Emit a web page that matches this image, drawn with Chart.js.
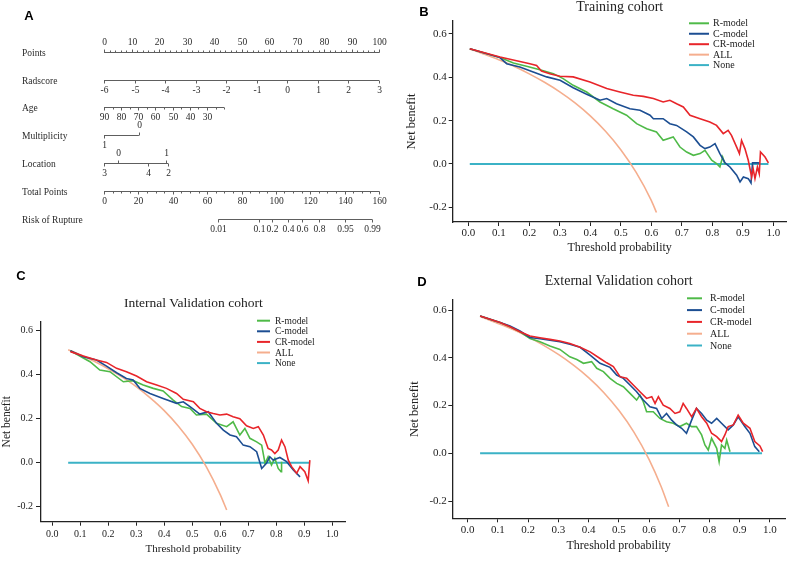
<!DOCTYPE html>
<html>
<head>
<meta charset="utf-8">
<script src="https://cdn.jsdelivr.net/npm/chart.js@4.4.0/dist/chart.umd.min.js"></script>
<style>
  body { margin: 0; background: #fff; width: 800px; height: 568px; position: relative; overflow: hidden; }
  canvas { position: absolute; }
</style>
</head>
<body>
<canvas id="nomo" width="400" height="255" style="left:0;top:0"></canvas>
<canvas id="dcaTrain" width="400" height="258" style="left:400px;top:0"></canvas>
<canvas id="dcaInt" width="400" height="308" style="left:0;top:260px"></canvas>
<canvas id="dcaExt" width="400" height="308" style="left:400px;top:260px"></canvas>
<script>
// ---- nomogram (panel A) ----
const rowNames = ['Points', 'Radscore', 'Age', 'Multiplicity', 'Location', 'Total Points', 'Risk of Rupture'];
const pointsTicks = [0, 10, 20, 30, 40, 50, 60, 70, 80, 90, 100];
const radscoreLabels = ['-6', '-5', '-4', '-3', '-2', '-1', '0', '1', '2', '3'];
const radscorePts = [0, 11.1, 22.2, 33.3, 44.4, 55.6, 66.7, 77.8, 88.9, 100];
const ageLabels = ['90', '80', '70', '60', '50', '40', '30'];
const ageLabelPts = [0, 6.2, 12.5, 18.7, 25.0, 31.2, 37.5];
const ageTickPts = [0, 3.1, 6.2, 9.4, 12.5, 15.6, 18.7, 21.9, 25.0, 28.1, 31.2, 34.3, 37.5, 40.6, 43.7];
const multiLabelsUp = ['0'], multiPtsUp = [12.7];
const multiLabelsDown = ['1'], multiPtsDown = [0];
const locLabelsUp = ['0', '1'], locPtsUp = [5.1, 22.4];
const locLabelsDown = ['3', '4', '2'], locPtsDown = [0, 16.0, 23.3];
const totalTicks = [0, 20, 40, 60, 80, 100, 120, 140, 160];
const riskLabels = ['0.01', '0.1', '0.2', '0.4', '0.6', '0.8', '0.95', '0.99'];
const riskTotalPts = [66.5, 89.9, 97.8, 107.3, 115.3, 124.8, 140.0, 156.1];

// ---- decision curves: [threshold, net benefit] ----
const modelNames = ['R-model', 'C-model', 'CR-model', 'ALL', 'None'];
const modelColors = ['#4fba48', '#1c4e92', '#e8252a', '#f5ae8e', '#3bb2c6'];

const trainR = [[0.005,0.532],[0.104,0.491],[0.148,0.466],[0.191,0.451],[0.235,0.435],[0.279,0.417],[0.311,0.394],[0.344,0.363],[0.388,0.332],[0.432,0.286],[0.475,0.255],[0.519,0.225],[0.552,0.186],[0.585,0.163],[0.617,0.148],[0.639,0.109],[0.672,0.125],[0.694,0.078],[0.716,0.055],[0.738,0.040],[0.760,0.048],[0.776,0.063],[0.798,0.017],[0.814,0.002],[0.825,-0.014],[0.834,0.032],[0.842,-0.002]];
const trainC = [[0.005,0.532],[0.104,0.491],[0.126,0.463],[0.169,0.448],[0.213,0.425],[0.257,0.402],[0.301,0.386],[0.344,0.352],[0.388,0.322],[0.432,0.294],[0.454,0.302],[0.486,0.278],[0.530,0.255],[0.563,0.248],[0.596,0.225],[0.607,0.209],[0.639,0.209],[0.661,0.186],[0.683,0.178],[0.716,0.148],[0.738,0.125],[0.760,0.086],[0.776,0.071],[0.792,0.078],[0.809,0.094],[0.825,0.048],[0.842,0.005],[0.858,-0.014],[0.880,-0.052],[0.891,-0.083],[0.902,-0.060],[0.918,-0.068],[0.927,-0.088],[0.932,0.005],[0.951,0.005],[0.956,0.002]];
const trainCR = [[0.005,0.532],[0.104,0.494],[0.202,0.463],[0.224,0.455],[0.240,0.429],[0.270,0.415],[0.301,0.405],[0.344,0.402],[0.399,0.378],[0.454,0.348],[0.497,0.332],[0.541,0.317],[0.574,0.312],[0.607,0.302],[0.639,0.286],[0.661,0.294],[0.683,0.278],[0.705,0.263],[0.727,0.225],[0.760,0.209],[0.792,0.194],[0.814,0.178],[0.836,0.140],[0.852,0.155],[0.863,0.132],[0.880,0.078],[0.889,0.048],[0.896,0.109],[0.907,0.071],[0.918,0.017],[0.929,-0.060],[0.934,-0.022],[0.940,-0.068],[0.948,-0.014],[0.954,-0.045],[0.958,0.055],[0.973,0.032],[0.984,0.005]];
const trainAll = [[0.005,0.531],[0.05,0.508],[0.1,0.481],[0.15,0.451],[0.2,0.416],[0.25,0.377],[0.3,0.333],[0.35,0.282],[0.4,0.222],[0.45,0.151],[0.5,0.066],[0.55,-0.038],[0.6,-0.168],[0.617,-0.224]];
const trainNone = [[0.005,0],[0.984,0]];

const intR = [[0.065,0.509],[0.135,0.459],[0.170,0.421],[0.206,0.414],[0.254,0.368],[0.289,0.373],[0.325,0.353],[0.361,0.338],[0.396,0.326],[0.432,0.285],[0.462,0.255],[0.492,0.247],[0.515,0.217],[0.551,0.221],[0.587,0.179],[0.623,0.164],[0.646,0.186],[0.670,0.126],[0.688,0.156],[0.706,0.111],[0.730,0.095],[0.748,0.080],[0.760,-0.003],[0.771,0.027],[0.783,-0.011],[0.795,0.020],[0.807,-0.026],[0.817,-0.041],[0.819,0.005]];
const intC = [[0.065,0.509],[0.111,0.482],[0.158,0.467],[0.194,0.439],[0.230,0.409],[0.265,0.383],[0.289,0.376],[0.313,0.338],[0.349,0.315],[0.396,0.292],[0.444,0.270],[0.468,0.277],[0.492,0.255],[0.527,0.221],[0.557,0.232],[0.587,0.179],[0.611,0.148],[0.635,0.126],[0.658,0.118],[0.682,0.080],[0.706,0.073],[0.730,0.050],[0.748,-0.026],[0.765,-0.003],[0.777,0.027],[0.789,0.012],[0.813,0.024],[0.837,0.005],[0.861,-0.033],[0.885,-0.064]];
const intCR = [[0.065,0.505],[0.111,0.485],[0.158,0.467],[0.194,0.456],[0.230,0.429],[0.265,0.414],[0.301,0.394],[0.337,0.368],[0.373,0.353],[0.408,0.338],[0.444,0.315],[0.468,0.288],[0.504,0.277],[0.527,0.247],[0.551,0.232],[0.575,0.224],[0.599,0.217],[0.623,0.221],[0.646,0.209],[0.670,0.200],[0.694,0.168],[0.718,0.156],[0.736,0.164],[0.754,0.126],[0.771,0.065],[0.783,0.058],[0.795,0.042],[0.807,0.058],[0.819,0.103],[0.831,0.073],[0.843,0.012],[0.855,-0.018],[0.873,-0.048],[0.885,-0.018],[0.902,-0.041],[0.914,-0.082],[0.920,0.012]];
const intAll = [[0.057,0.514],[0.1,0.491],[0.15,0.461],[0.2,0.427],[0.25,0.389],[0.3,0.346],[0.35,0.295],[0.4,0.237],[0.45,0.167],[0.5,0.084],[0.55,-0.018],[0.6,-0.145],[0.623,-0.215]];
const intNone = [[0.057,0],[0.920,0]];

const extR = [[0.041,0.575],[0.107,0.548],[0.140,0.530],[0.173,0.509],[0.206,0.481],[0.239,0.467],[0.272,0.449],[0.305,0.435],[0.338,0.404],[0.361,0.393],[0.383,0.377],[0.410,0.384],[0.427,0.356],[0.449,0.342],[0.471,0.314],[0.493,0.293],[0.515,0.279],[0.537,0.251],[0.559,0.223],[0.570,0.244],[0.581,0.216],[0.592,0.174],[0.614,0.174],[0.636,0.146],[0.658,0.132],[0.680,0.126],[0.702,0.112],[0.724,0.126],[0.741,0.112],[0.757,0.112],[0.774,0.077],[0.785,0.035],[0.796,0.014],[0.807,0.063],[0.824,0.021],[0.832,-0.035],[0.840,0.035],[0.851,0.021],[0.857,0.056],[0.868,0.007]];
const extC = [[0.041,0.575],[0.107,0.548],[0.140,0.533],[0.173,0.512],[0.206,0.485],[0.239,0.480],[0.272,0.474],[0.305,0.467],[0.338,0.457],[0.372,0.444],[0.405,0.411],[0.438,0.377],[0.471,0.360],[0.493,0.328],[0.515,0.314],[0.537,0.286],[0.559,0.258],[0.581,0.223],[0.603,0.195],[0.625,0.188],[0.642,0.146],[0.658,0.167],[0.675,0.139],[0.691,0.119],[0.708,0.105],[0.724,0.084],[0.741,0.139],[0.757,0.188],[0.774,0.167],[0.791,0.139],[0.807,0.126],[0.824,0.146],[0.840,0.126],[0.862,0.098],[0.879,0.119],[0.895,0.153],[0.917,0.112],[0.934,0.084],[0.950,0.028],[0.965,0.007]];
const extCR = [[0.041,0.575],[0.107,0.548],[0.140,0.530],[0.173,0.509],[0.206,0.491],[0.239,0.484],[0.272,0.477],[0.305,0.470],[0.338,0.460],[0.372,0.444],[0.405,0.425],[0.438,0.397],[0.460,0.379],[0.482,0.363],[0.504,0.321],[0.526,0.314],[0.548,0.286],[0.570,0.258],[0.592,0.230],[0.609,0.237],[0.620,0.209],[0.631,0.237],[0.647,0.202],[0.669,0.188],[0.686,0.167],[0.702,0.174],[0.713,0.209],[0.724,0.188],[0.741,0.153],[0.757,0.188],[0.774,0.153],[0.791,0.126],[0.807,0.084],[0.824,0.070],[0.840,0.049],[0.851,0.077],[0.862,0.112],[0.879,0.119],[0.895,0.160],[0.912,0.126],[0.934,0.105],[0.950,0.049],[0.967,0.031],[0.976,0.007]];
const extAll = [[0.041,0.573],[0.1,0.544],[0.15,0.518],[0.2,0.488],[0.25,0.453],[0.3,0.414],[0.35,0.369],[0.4,0.317],[0.45,0.255],[0.5,0.180],[0.55,0.089],[0.6,-0.025],[0.64,-0.139],[0.665,-0.224]];
const extNone = [[0.041,0],[0.974,0]];

const serif = "'Liberation Serif', 'Times New Roman', serif";
const sans = "'Liberation Sans', Arial, sans-serif";

// nomogram rows, built from the arrays above
const nomoRows = [
  { scale: 'x', range: [0, 100], groups: [{ pos: pointsTicks, text: pointsTicks, side: -1 }], minorStep: 2, minorSide: -1 },
  { scale: 'x', range: [0, 100], groups: [{ pos: radscorePts, text: radscoreLabels, side: 1 }] },
  { scale: 'x', range: [0, ageTickPts[ageTickPts.length - 1]], groups: [{ pos: ageLabelPts, text: ageLabels, side: 1 }], minor: ageTickPts, minorSide: 1 },
  { scale: 'x', range: [0, multiPtsUp[0]], groups: [{ pos: multiPtsUp, text: multiLabelsUp, side: -1 }, { pos: multiPtsDown, text: multiLabelsDown, side: 1 }] },
  { scale: 'x', range: [0, locPtsDown[2]], groups: [{ pos: locPtsUp, text: locLabelsUp, side: -1 }, { pos: locPtsDown, text: locLabelsDown, side: 1 }] },
  { scale: 'xTotal', range: [0, 160], groups: [{ pos: totalTicks, text: totalTicks, side: 1 }], minorStep: 5, minorSide: 1 },
  { scale: 'xTotal', range: [riskTotalPts[0], riskTotalPts[riskTotalPts.length - 1]], groups: [{ pos: riskTotalPts, text: riskLabels, side: 1 }] }
];

const nomogramPlugin = {
  id: 'nomogram',
  afterDraw(chart) {
    const ctx = chart.ctx;
    const ys = chart.scales.y;
    ctx.save();
    ctx.lineWidth = 1;
    ctx.strokeStyle = '#5e5e5e';
    ctx.fillStyle = '#2a2a2a';
    ctx.font = '9.5px ' + serif;
    ctx.textBaseline = 'middle';
    nomoRows.forEach((row, i) => {
      const sc = chart.scales[row.scale];
      const y = Math.round(ys.getPixelForValue(i)) + 0.5;
      ctx.textAlign = 'left';
      ctx.fillText(rowNames[i], 22, y + 1);
      ctx.beginPath();
      ctx.moveTo(sc.getPixelForValue(row.range[0]), y);
      ctx.lineTo(sc.getPixelForValue(row.range[1]), y);
      ctx.stroke();
      // minor ticks
      let minor = row.minor || [];
      if (row.minorStep) {
        minor = [];
        for (let v = row.range[0]; v <= row.range[1] + 1e-9; v += row.minorStep) minor.push(v);
      }
      ctx.beginPath();
      minor.forEach(v => {
        const px = Math.round(sc.getPixelForValue(v)) + 0.5;
        ctx.moveTo(px, y);
        ctx.lineTo(px, y + row.minorSide * 2);
      });
      ctx.stroke();
      // major ticks and labels
      ctx.textAlign = 'center';
      row.groups.forEach(g => {
        g.pos.forEach((v, k) => {
          const px = Math.round(sc.getPixelForValue(v)) + 0.5;
          ctx.beginPath();
          ctx.moveTo(px, y);
          ctx.lineTo(px, y + g.side * 3);
          ctx.stroke();
          ctx.fillText(String(g.text[k]), px, y + g.side * 10);
        });
      });
    });
    ctx.restore();
  }
};

// panel letter, title and legend for each panel
const panelPlugin = {
  id: 'panel',
  afterDraw(chart, args, o) {
    const ctx = chart.ctx;
    const a = chart.chartArea;
    ctx.save();
    ctx.textBaseline = 'middle';
    if (o.letter) {
      ctx.font = 'bold 13px ' + sans;
      ctx.fillStyle = '#000';
      ctx.textAlign = 'center';
      ctx.fillText(o.letter, o.letterX, o.letterY);
    }
    if (o.title) {
      ctx.font = o.titleSize + 'px ' + serif;
      ctx.fillStyle = '#222';
      ctx.textAlign = 'center';
      ctx.fillText(o.title, (a.left + a.right) / 2, o.titleY);
    }
    if (o.legend) {
      const L = o.legend;
      ctx.font = L.size + 'px ' + serif;
      ctx.textAlign = 'left';
      chart.data.datasets.forEach((ds, i) => {
        const y = L.y0 + i * L.dy;
        ctx.strokeStyle = ds.borderColor;
        ctx.lineWidth = 2;
        ctx.beginPath();
        ctx.moveTo(L.x0, y);
        ctx.lineTo(L.x1, y);
        ctx.stroke();
        ctx.fillStyle = '#222';
        ctx.fillText(ds.label, L.tx, y + 0.5);
      });
    }
    ctx.restore();
  }
};

new Chart(document.getElementById('nomo'), {
  type: 'scatter',
  data: { datasets: [] },
  options: {
    responsive: false,
    animation: false,
    events: [],
    layout: { padding: { left: 104, right: 21, top: 51.7, bottom: 36.3 } },
    plugins: {
      legend: { display: false },
      tooltip: { enabled: false },
      panel: { letter: 'A', letterX: 29, letterY: 16 }
    },
    scales: {
      x: { type: 'linear', min: 0, max: 100, display: false },
      xTotal: { type: 'linear', axis: 'x', min: 0, max: 160, display: false },
      y: { type: 'linear', min: 0, max: rowNames.length - 1, reverse: true, display: false }
    }
  },
  plugins: [nomogramPlugin, panelPlugin]
});

function dcaChart(id, series, c) {
  const drawOrder = [2, 1, 0, 3, 4];
  return new Chart(document.getElementById(id), {
    type: 'line',
    data: {
      datasets: modelNames.map((name, k) => ({
        label: name,
        data: series[k].map(p => ({ x: p[0], y: p[1] })),
        borderColor: modelColors[k],
        backgroundColor: modelColors[k],
        borderWidth: k === 4 ? 2 : 1.6,
        pointRadius: 0,
        tension: 0,
        cubicInterpolationMode: k === 3 ? 'monotone' : 'default',
        order: drawOrder[k]
      }))
    },
    options: {
      responsive: false,
      animation: false,
      events: [],
      layout: { padding: { left: 0, right: c.padRight, top: c.padTop, bottom: 0 } },
      plugins: {
        legend: { display: false },
        tooltip: { enabled: false },
        panel: c.panel
      },
      scales: {
        x: {
          type: 'linear', min: c.xMin, max: c.xMax,
          border: { display: true, color: '#222', width: 1.3 },
          grid: { drawOnChartArea: false, drawTicks: true, tickLength: 4, color: '#222' },
          ticks: {
            stepSize: 0.1, includeBounds: false, padding: c.xTickPad, color: '#222',
            maxRotation: 0, autoSkip: false,
            font: { family: serif, size: c.tickSize },
            callback: v => v.toFixed(1)
          },
          title: {
            display: true, text: 'Threshold probability', color: '#222',
            font: { family: serif, size: c.xTitleSize }, padding: { top: 0, bottom: c.xTitlePad }
          },
          afterFit: s => { s.height = c.xHeight; }
        },
        y: {
          type: 'linear', min: c.yMin, max: c.yMax,
          border: { display: true, color: '#222', width: 1.3 },
          grid: { drawOnChartArea: false, drawTicks: true, tickLength: c.yTickLen, color: '#222' },
          ticks: {
            stepSize: 0.2, includeBounds: false, padding: c.yTickPad, color: '#222',
            font: { family: serif, size: c.tickSize },
            callback: v => v.toFixed(1)
          },
          title: {
            display: true, text: 'Net benefit', color: '#222',
            font: { family: serif, size: c.yTitleSize }, padding: { top: c.yTitlePad, bottom: 0 }
          },
          afterFit: s => { s.width = c.yWidth; }
        }
      }
    },
    plugins: [panelPlugin]
  });
}

dcaChart('dcaTrain', [trainR, trainC, trainCR, trainAll, trainNone], {
  xMin: -0.051, xMax: 1.044, yMin: -0.268, yMax: 0.660,
  padTop: 21, padRight: 13.3, yWidth: 52.7, xHeight: 36,
  tickSize: 11, xTickPad: 1, yTickLen: 4, yTickPad: 2,
  xTitleSize: 12, xTitlePad: 2.5, yTitleSize: 12.5, yTitlePad: 4.5,
  panel: {
    letter: 'B', letterX: 24, letterY: 12, title: 'Training cohort', titleSize: 14, titleY: 7.5,
    legend: { x0: 289, x1: 309, tx: 313, y0: 23.3, dy: 10.45, size: 10 }
  }
});

dcaChart('dcaInt', [intR, intC, intCR, intAll, intNone], {
  xMin: -0.040, xMax: 1.048, yMin: -0.268, yMax: 0.641,
  padTop: 61.7, padRight: 54.3, yWidth: 41, xHeight: 46.3,
  tickSize: 10, xTickPad: 3, yTickLen: 5, yTickPad: 3,
  xTitleSize: 11, xTitlePad: 12.7, yTitleSize: 11.5, yTitlePad: 0,
  panel: {
    letter: 'C', letterX: 21, letterY: 16, title: 'Internal Validation cohort', titleSize: 13.5, titleY: 43,
    legend: { x0: 257, x1: 270, tx: 275, y0: 60.7, dy: 10.6, size: 9.5 }
  }
});

dcaChart('dcaExt', [extR, extC, extCR, extAll, extNone], {
  xMin: -0.051, xMax: 1.050, yMin: -0.272, yMax: 0.642,
  padTop: 40, padRight: 15, yWidth: 52.3, xHeight: 49.7,
  tickSize: 11, xTickPad: 1, yTickLen: 4, yTickPad: 1.5,
  xTitleSize: 12, xTitlePad: 14.8, yTitleSize: 12.5, yTitlePad: 7.5,
  panel: {
    letter: 'D', letterX: 22, letterY: 22, title: 'External Validation cohort', titleSize: 14, titleY: 21,
    legend: { x0: 287, x1: 302, tx: 310, y0: 38.3, dy: 11.8, size: 10 }
  }
});
</script>
</body>
</html>
